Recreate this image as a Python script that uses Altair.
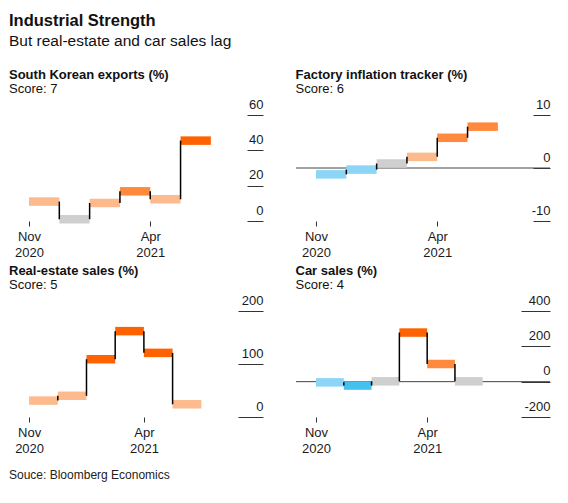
import altair as alt
import pandas as pd

FONT = "Liberation Sans"

# ---- data ----
months = ["Nov", "Dec", "Jan", "Feb", "Mar", "Apr"]

exports_vals = [11, 1, 10.2, 16.8, 12.3, 45.5]
exports_tones = ["light", "gray", "light", "mid", "light", "dark"]

factory_vals = [-1.2, -0.3, 0.85, 2.1, 5.7, 7.8]
factory_tones = ["lightblue", "lightblue", "gray", "light", "mid", "mid"]

realestate_vals = [31, 40, 109, 162, 121, 24]
realestate_tones = ["light", "light", "dark", "dark", "dark", "light"]

car_vals = [-4, -22, 2, 278, 100, 2]
car_tones = ["lightblue", "blue", "gray", "dark", "mid", "gray"]

panel_titles = ["South Korean exports (%)", "Factory inflation tracker (%)",
                "Real-estate sales (%)", "Car sales (%)"]
scores = [7, 6, 5, 4]

exports_ticks = [0, 20, 40, 60]
factory_ticks = [-10, 0, 10]
realestate_ticks = [0, 100, 200]
car_ticks = [-200, 0, 200, 400]

x_tick_positions = [0, 4]
x_tick_labels = [["Nov", "2020"], ["Apr", "2021"]]

source_text = ["Souce: Bloomberg Economics"]

tone_domain = ["lightblue", "blue", "gray", "light", "mid", "dark"]
tone_range = ["#8CD5F7", "#45C1F0", "#CFCFCF", "#FDBA8C", "#FF8A3D", "#FF6200"]

W, H = 254, 106


def panel(title, score, vals, tones, xdom, ydom, yticks, ts, zero_line):
    seg = pd.DataFrame({
        "x": list(range(len(vals))),
        "x2": [i + 1 for i in range(len(vals))],
        "v": vals,
        "tone": tones,
        "month": months[:len(vals)],
    })
    con = pd.DataFrame({
        "x": list(range(1, len(vals))),
        "y": vals[:-1],
        "y2": vals[1:],
    })
    xscale = alt.Scale(domain=xdom, nice=False, zero=False)
    yscale = alt.Scale(domain=ydom, nice=False, zero=False)
    label_expr = " : ".join(
        [f"datum.value == {p} ? ['{a}', '{b}']" for p, (a, b) in zip(x_tick_positions, x_tick_labels)]
    ) + " : ''"
    xaxis = alt.Axis(values=x_tick_positions, tickCount=len(x_tick_positions),
                     labelExpr=label_expr, title=None,
                     domain=False, grid=False, tickSize=5, tickColor="#333333",
                     labelFont=FONT, labelFontSize=13, labelColor="#1a1a1a",
                     labelLineHeight=16, labelPadding=4, labelBaseline="top",
                     labelOverlap=False)
    yaxis = alt.Axis(orient="right", values=yticks, tickCount=len(yticks),
                     title=None, domain=False, grid=False,
                     offset=-ts, tickSize=ts, tickColor="#333333",
                     labelAlign="right", labelBaseline="alphabetic", labelPadding=0,
                     labelOffset=-7, labelFont=FONT, labelFontSize=13,
                     labelColor="#1a1a1a", labelOverlap=False, labelFlush=False,
                     labelExpr="'' + datum.value")
    bars = alt.Chart(seg).mark_rule(strokeWidth=8.5, strokeCap="butt").encode(
        x=alt.X("x:Q", scale=xscale, axis=xaxis),
        x2="x2:Q",
        y=alt.Y("v:Q", scale=yscale, axis=yaxis),
        color=alt.Color("tone:N", scale=alt.Scale(domain=tone_domain, range=tone_range), legend=None),
    )
    conn = alt.Chart(con).mark_rule(strokeWidth=1.5, color="#000000").encode(
        x=alt.X("x:Q"),
        y=alt.Y("y:Q"),
        y2="y2:Q",
    )
    layers = []
    if zero_line:
        zl = alt.Chart(pd.DataFrame({"z": [0]})).mark_rule(strokeWidth=1, color="#444444").encode(
            y=alt.Y("z:Q")
        )
        layers.append(zl)
    layers += [bars, conn]
    return alt.layer(*layers).properties(
        width=W, height=H,
        title=alt.TitleParams(text=title, subtitle=f"Score: {score}", anchor="start",
                              font=FONT, fontSize=13, fontWeight="bold", color="#111111",
                              subtitleFont=FONT, subtitleFontSize=13, subtitleColor="#111111",
                              subtitlePadding=1, offset=2),
    )


p1 = panel(panel_titles[0], scores[0], exports_vals, exports_tones, [-0.66, 7.72], [0, 60], exports_ticks, 16, False)
p2 = panel(panel_titles[1], scores[1], factory_vals, factory_tones, [-0.66, 7.72], [-10, 10], factory_ticks, 17, True)
p3 = panel(panel_titles[2], scores[2], realestate_vals, realestate_tones, [-0.70, 8.15], [0, 200], realestate_ticks, 25, False)
p4 = panel(panel_titles[3], scores[3], car_vals, car_tones, [-0.72, 8.42], [-200, 400], car_ticks, 29, True)

footer = alt.Chart(pd.DataFrame({"t": source_text})).mark_text(
    align="left", baseline="alphabetic", font=FONT, fontSize=12, color="#222222"
).encode(x=alt.value(0), y=alt.value(18), text="t:N").properties(width=W, height=20)

row1 = alt.hconcat(p1, p2, spacing=31)
row2 = alt.hconcat(p3, p4, spacing=31)

chart = alt.vconcat(
    row1, row2, footer, spacing=6,
    title=alt.TitleParams(text="Industrial Strength", subtitle="But real-estate and car sales lag",
                          anchor="start", font=FONT, fontSize=16.5, fontWeight="bold", color="#111111",
                          subtitleFont=FONT, subtitleFontSize=15.5, subtitleColor="#111111",
                          subtitlePadding=4, offset=20),
).properties(
    padding={"left": 1, "top": 5, "right": 5, "bottom": 5},
    background="white",
).configure_view(stroke=None)

chart.save("out.html", embed_options={"renderer": "svg", "actions": False})
